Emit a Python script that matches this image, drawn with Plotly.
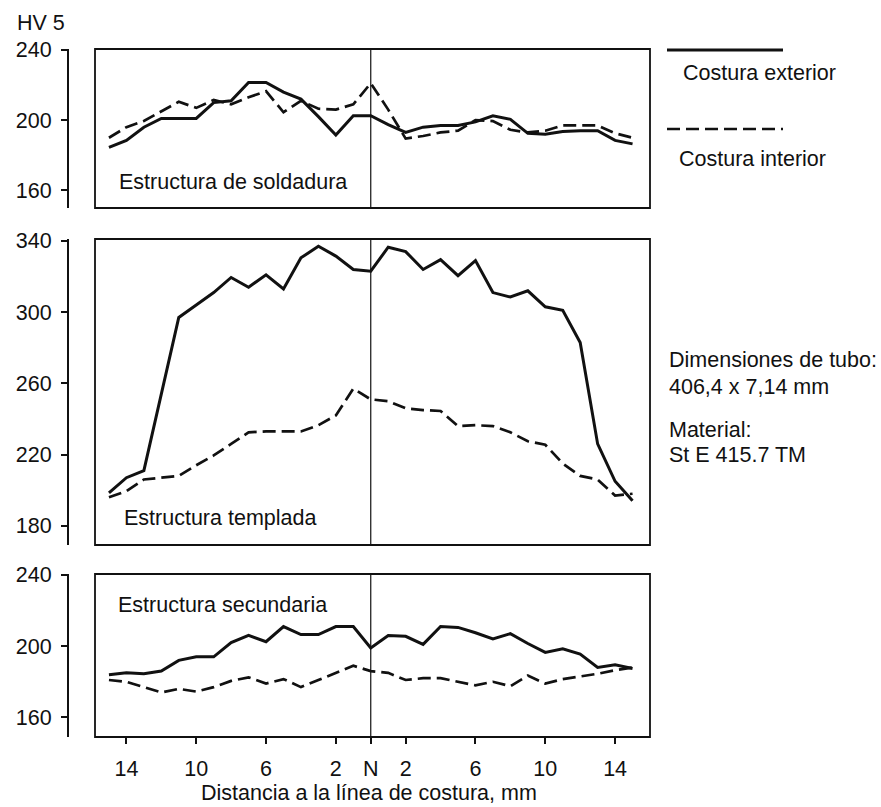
import plotly.graph_objects as go

# ---------------- data ----------------
X_MM = list(range(-15, 16))  # distance to weld line, mm (negative = left side)
X_TICKVALS = [-14, -10, -6, -2, 0, 2, 6, 10, 14]
X_TICKTEXT = ["14", "10", "6", "2", "N", "2", "6", "10", "14"]

# Estructura de soldadura
TOP_EXT = [184.5, 188.5, 196, 201, 201, 201, 210, 211, 221.5, 221.5, 216, 212, 202, 191.5, 202.5,
           202.5, 197.5, 193, 196, 197, 197, 199, 202.5, 200.5, 192.5, 192, 193.5, 194, 194, 188.5, 186.5]
TOP_INT = [190, 196, 199.5, 205, 210.5, 207, 211.5, 209, 213, 216.5, 204.5, 211, 206.5, 206, 209,
           221, 206, 189.5, 191, 193, 194, 200, 199.5, 194.5, 193, 194, 197, 197, 197, 192.5, 190]
TOP_TICKS = [160, 200, 240]

# Estructura templada
MID_EXT = [198.5, 207, 211, 254, 297, 304, 311, 319.5, 314, 321, 313, 330.5, 337, 331.5, 324,
           323, 336.5, 334, 324, 329.5, 320.5, 329, 311, 308.5, 312, 303, 301, 283, 226, 205, 194]
MID_INT = [196, 199.5, 206, 207, 208, 214, 219.5, 226, 232.5, 233, 233, 233, 236.5, 242, 257,
           251, 250, 246, 245, 244.5, 236, 236.5, 236, 232.5, 227.5, 225.5, 215, 208, 206, 197, 198]
MID_TICKS = [180, 220, 260, 300, 340]

# Estructura secundaria
BOT_EXT = [184, 185, 184.5, 186, 192, 194, 194, 202, 206, 202.5, 211, 206.5, 206.5, 211, 211,
           199, 206, 205.5, 201, 211, 210.5, 207.5, 204, 207, 201.5, 196.5, 198.5, 195.5, 188, 189.5, 187.5]
BOT_INT = [181, 180, 177, 174, 176, 174.5, 177, 180.5, 182.5, 179, 181.5, 177, 181, 185, 189,
           186, 185, 181, 182, 182, 180, 178, 180, 177.5, 183.5, 179, 181.5, 183, 184.5, 186.5, 188]
BOT_TICKS = [160, 200, 240]

PANEL_LABELS = ["Estructura de soldadura", "Estructura templada", "Estructura secundaria"]
LEGEND_NAMES = ["Costura exterior", "Costura interior"]

# ---------------- layout helpers ----------------
W, H = 881, 807


def px(x):
    return x / W


def py(y):
    return 1 - y / H


INK = "#111111"
FAMILY = "Liberation Sans, Arial, Helvetica, sans-serif"
FONT = dict(family=FAMILY, size=21.5, color=INK)
SOLID = dict(color=INK, width=3)
DASHED = dict(color=INK, width=2.7, dash="13px,6px")

X_DOM = [px(95), px(650)]
X_RANGE = [-15.8, 16.0]
Y_POS = px(68)

panels = [
    dict(xa="x", ya="y", ext=TOP_EXT, inn=TOP_INT, ticks=TOP_TICKS,
         dom=[py(208), py(49)], rng=[150, 240.5]),
    dict(xa="x2", ya="y2", ext=MID_EXT, inn=MID_INT, ticks=MID_TICKS,
         dom=[py(545), py(239)], rng=[169.2, 341.1]),
    dict(xa="x3", ya="y3", ext=BOT_EXT, inn=BOT_INT, ticks=BOT_TICKS,
         dom=[py(737), py(574)], rng=[149, 240.5]),
]

fig = go.Figure()
layout = dict(
    width=W, height=H, autosize=False,
    margin=dict(l=0, r=0, t=0, b=0, autoexpand=False),
    paper_bgcolor="white", plot_bgcolor="white",
    showlegend=False, font=FONT,
)

shapes = []
for i, p in enumerate(panels):
    fig.add_trace(go.Scatter(x=X_MM, y=p["ext"], xaxis=p["xa"], yaxis=p["ya"], mode="lines",
                             line=SOLID, name=LEGEND_NAMES[0], showlegend=False))
    fig.add_trace(go.Scatter(x=X_MM, y=p["inn"], xaxis=p["xa"], yaxis=p["ya"], mode="lines",
                             line=DASHED, name=LEGEND_NAMES[1], showlegend=False))
    xkey = "xaxis" if i == 0 else f"xaxis{i + 1}"
    ykey = "yaxis" if i == 0 else f"yaxis{i + 1}"
    is_bottom = (i == len(panels) - 1)
    layout[xkey] = dict(
        domain=X_DOM, range=X_RANGE, anchor=p["ya"], showgrid=False, zeroline=False,
        showline=False, visible=is_bottom, automargin=False,
        tickmode="array", tickvals=X_TICKVALS, ticktext=X_TICKTEXT,
        ticks="outside", ticklen=6, tickwidth=1.5, tickcolor=INK,
        tickfont=FONT, ticklabelstandoff=6,
    )
    layout[ykey] = dict(
        domain=p["dom"], range=p["rng"], anchor="free", position=Y_POS, automargin=False,
        showgrid=False, zeroline=False, showline=True, linecolor=INK, linewidth=2.2,
        tickmode="array", tickvals=p["ticks"], ticks="outside", ticklen=6, tickwidth=1.5,
        tickcolor=INK, tickfont=FONT, ticklabelstandoff=5,
    )
    # panel frame
    shapes.append(dict(type="rect", xref=f"{p['xa']} domain", yref=f"{p['ya']} domain",
                       x0=0, x1=1, y0=0, y1=1, line=dict(color=INK, width=1.8), layer="above"))
    # weld line N
    shapes.append(dict(type="line", xref=p["xa"], yref=f"{p['ya']} domain",
                       x0=0, x1=0, y0=0, y1=1, line=dict(color=INK, width=1.2), layer="below"))

# legend samples (drawn above their texts, as in the reference)
shapes.append(dict(type="line", xref="paper", yref="paper", x0=px(667), x1=px(783),
                   y0=py(50), y1=py(50), line=dict(color=INK, width=3)))
shapes.append(dict(type="line", xref="paper", yref="paper", x0=px(667), x1=px(783),
                   y0=py(129), y1=py(129), line=dict(color=INK, width=2.7, dash="13px,6px")))
layout["shapes"] = shapes


def txt(text, x, y, xanchor="left"):
    return dict(text=text, x=px(x), y=py(y), xref="paper", yref="paper", xanchor=xanchor,
                yanchor="middle", showarrow=False, font=FONT)


layout["annotations"] = [
    txt("HV 5", 15, 23),
    txt(PANEL_LABELS[0], 117, 182),
    txt(PANEL_LABELS[1], 122, 518),
    txt(PANEL_LABELS[2], 116, 605),
    txt(LEGEND_NAMES[0], 681, 73),
    txt(LEGEND_NAMES[1], 677, 159),
    txt("Dimensiones de tubo:", 667, 360),
    txt("406,4 x 7,14 mm", 667, 387),
    txt("Material:", 667, 430),
    txt("St E 415.7 TM", 667, 455),
    txt("Distancia a la línea de costura, mm", 369, 793, xanchor="center"),
]

fig.update_layout(**layout)
fig.write_html(
    "out.html",
    config={"displayModeBar": False},
    post_script=(
        "document.body.style.margin='0px';document.body.style.padding='0px';"
        "document.body.style.overflow='hidden';"
        "var gd=document.getElementById('{plot_id}');"
        "gd.style.position='absolute';gd.style.left='0px';gd.style.top='0px';"
    ),
)
